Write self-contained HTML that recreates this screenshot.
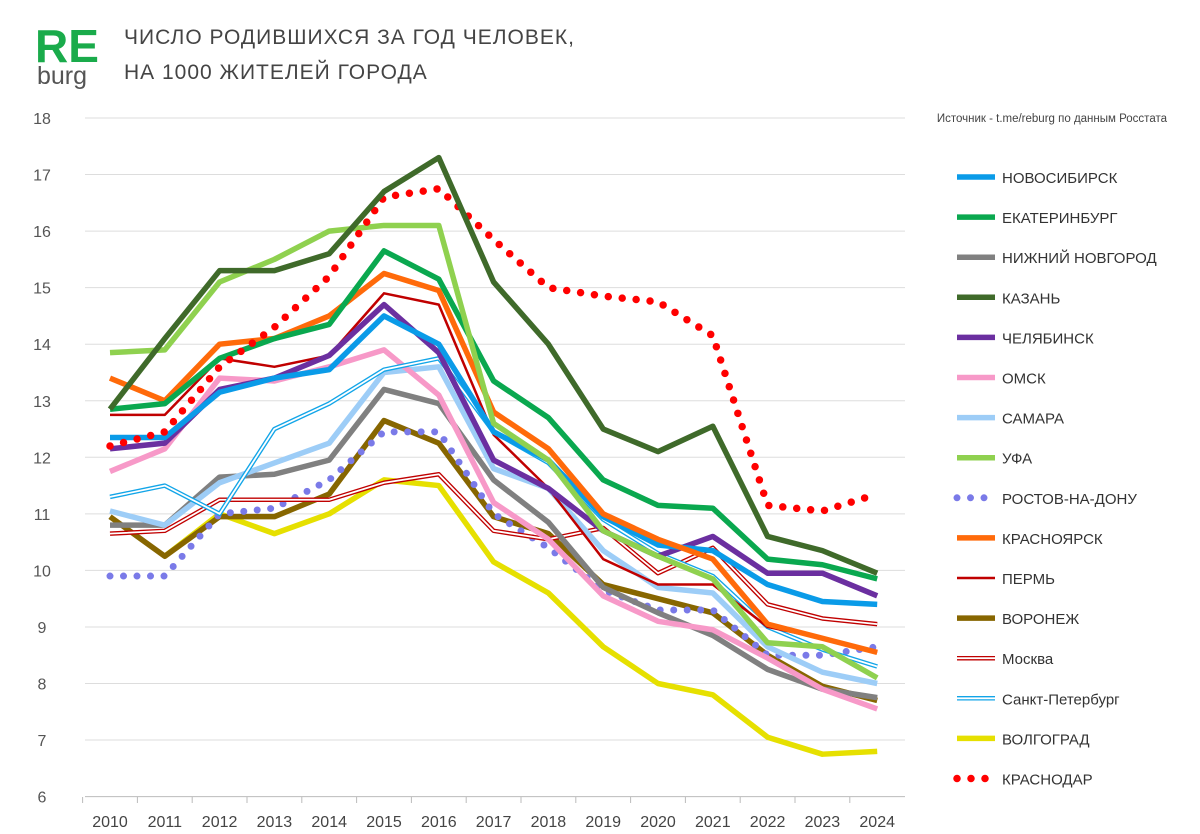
<!DOCTYPE html>
<html><head><meta charset="utf-8">
<style>
body{margin:0;background:#fff;width:1200px;height:834px;overflow:hidden;font-family:"Liberation Sans",sans-serif}
svg{position:absolute;left:0;top:0}
</style></head><body>
<svg id="c" width="1200" height="834" xmlns="http://www.w3.org/2000/svg">
<text x="35" y="62" font-size="46" font-weight="bold" fill="#1aab4b">RE</text>
<text x="37" y="84" font-size="25" fill="#555">burg</text>
<text x="124" y="44" font-size="21" fill="#444" letter-spacing="1">ЧИСЛО РОДИВШИХСЯ ЗА ГОД ЧЕЛОВЕК,</text>
<text x="124" y="79" font-size="21" fill="#444" letter-spacing="1">НА 1000 ЖИТЕЛЕЙ ГОРОДА</text>
<text x="1167" y="122" font-size="11.5" fill="#444" text-anchor="end">Источник - t.me/reburg по данным Росстата</text>
<g id="grid"></g><g id="lines"></g><g id="legend"></g>
</svg>
<script>
const years=[2010,2011,2012,2013,2014,2015,2016,2017,2018,2019,2020,2021,2022,2023,2024];
const yTicks=[6,7,8,9,10,11,12,13,14,15,16,17,18];
const names=["НОВОСИБИРСК","ЕКАТЕРИНБУРГ","НИЖНИЙ НОВГОРОД","КАЗАНЬ","ЧЕЛЯБИНСК","ОМСК","САМАРА","УФА","РОСТОВ-НА-ДОНУ","КРАСНОЯРСК","ПЕРМЬ","ВОРОНЕЖ","Москва","Санкт-Петербург","ВОЛГОГРАД","КРАСНОДАР"];
const novosibirsk=[12.35,12.35,13.15,13.4,13.55,14.5,14.0,12.45,11.95,10.95,10.45,10.35,9.75,9.45,9.4];
const ekaterinburg=[12.85,12.95,13.75,14.1,14.35,15.65,15.15,13.35,12.7,11.6,11.15,11.1,10.2,10.1,9.85];
const nnovgorod=[10.8,10.8,11.65,11.7,11.95,13.2,12.95,11.6,10.85,9.7,9.25,8.85,8.25,7.9,7.75];
const kazan=[12.85,14.1,15.3,15.3,15.6,16.7,17.3,15.1,14.0,12.5,12.1,12.55,10.6,10.35,9.95];
const chelyabinsk=[12.15,12.25,13.2,13.4,13.8,14.7,13.85,11.95,11.45,10.7,10.25,10.6,9.95,9.95,9.55];
const omsk=[11.75,12.15,13.4,13.35,13.6,13.9,13.1,11.2,10.55,9.55,9.1,8.95,8.45,7.9,7.55];
const samara=[11.05,10.8,11.55,11.9,12.25,13.5,13.6,11.8,11.45,10.35,9.7,9.6,8.65,8.2,8.0];
const ufa=[13.85,13.9,15.1,15.5,16.0,16.1,16.1,12.6,11.95,10.7,10.25,9.85,8.72,8.65,8.1];
const rostov=[9.9,9.9,11.0,11.1,11.6,12.45,12.45,11.0,10.4,9.65,9.3,9.3,8.5,8.5,8.65];
const krasnoyarsk=[13.4,13.0,14.0,14.1,14.5,15.25,14.95,12.8,12.15,11.0,10.55,10.2,9.05,8.8,8.55];
const perm=[12.75,12.75,13.75,13.6,13.8,14.9,14.7,12.4,11.45,10.2,9.75,9.75,9.0,8.8,8.55];
const voronezh=[10.95,10.25,10.95,10.95,11.35,12.65,12.25,10.95,10.65,9.75,9.5,9.25,8.5,7.95,7.7];
const moscow=[10.65,10.7,11.25,11.25,11.25,11.55,11.7,10.7,10.55,10.75,9.95,10.4,9.4,9.15,9.05];
const spb=[11.3,11.5,11.0,12.5,12.95,13.55,13.75,12.45,11.9,10.9,10.3,9.9,9.0,8.6,8.3];
const volgograd=[null,10.25,11.0,10.65,11.0,11.6,11.5,10.15,9.6,8.65,8.0,7.8,7.05,6.75,6.8];
const krasnodar=[12.2,12.45,13.6,14.3,15.2,16.6,16.75,15.85,15.0,14.85,14.75,14.15,11.15,11.05,11.35];
const series=[novosibirsk,ekaterinburg,nnovgorod,kazan,chelyabinsk,omsk,samara,ufa,rostov,krasnoyarsk,perm,voronezh,moscow,spb,volgograd,krasnodar];
const styles=[
 {c:"#0a9be8",w:5.5},{c:"#0aa84f",w:5.5},{c:"#808080",w:5.5},{c:"#3f6a2a",w:5.5},{c:"#6b2fa0",w:5.5},{c:"#f799c8",w:5.5},{c:"#9dcdf7",w:5.5},{c:"#8fd14f",w:5.5},
 {c:"#7a7ae8",w:7,dot:13.5},{c:"#ff6a0a",w:5.5},{c:"#c00000",w:2.5},{c:"#876600",w:5.5},{c:"#c00000",w:4.5,dbl:1},{c:"#12a5e8",w:4.5,dbl:1},{c:"#e6e000",w:5.5},{c:"#ff0000",w:7.5,dot:14}];
const order=[14,11,8,12,2,6,5,13,10,4,0,9,1,7,15,3];
const X=v=>110+(v-2010)*54.8, Y=v=>118+(18-v)*56.55;
const NS="http://www.w3.org/2000/svg";
const grid=document.getElementById('grid'),lines=document.getElementById('lines'),leg=document.getElementById('legend');
function mk(tag,at,p){const e=document.createElementNS(NS,tag);for(const k in at)e.setAttribute(k,at[k]);p.appendChild(e);return e;}
yTicks.forEach(t=>{
 const l=mk('line',{x1:85,x2:905,y1:Y(t),y2:Y(t),stroke:t==6?'#bbb':'#ddd','stroke-width':1},grid);
 
 
 const tx=mk('text',{x:42,y:Y(t)+6,'font-size':16,fill:'#555','text-anchor':'middle'},grid);tx.textContent=t;
 
 
});
years.forEach(yr=>{
 const tx=mk('text',{x:X(yr),y:827,'font-size':16,fill:'#444','text-anchor':'middle'},grid);tx.textContent=yr;
 
 
 const tk=mk('line',{x1:X(yr)-27.4,x2:X(yr)-27.4,y1:797,y2:803,stroke:'#bbb'},grid);
 
 
});
function draw(g,pts,s){
 const at={points:pts,fill:'none',stroke:s.c,'stroke-width':s.w,'stroke-linejoin':'round'};
 if(s.dot){at['stroke-dasharray']='0 '+s.dot;at['stroke-linecap']='round';}
 mk('polyline',at,g);
 if(s.dbl)mk('polyline',{points:pts,fill:'none',stroke:'#fff','stroke-width':1.8,'stroke-linejoin':'round'},g);
}
order.forEach(i=>{
 const pts=series[i].map((v,j)=>v==null?null:X(years[j])+','+Y(v)).filter(p=>p).join(' ');
 const g=mk('g',{},lines);
 
 
 draw(g,pts,styles[i]);
});
names.forEach((n,i)=>{
 const y=177+i*40.1;
 const g=mk('g',{},leg);
 
 
 draw(g,'957,'+y+' 995,'+y,styles[i]);
 const tx=mk('text',{x:1002,y:y+6,'font-size':15,fill:'#333'},g);tx.textContent=n;
});
</script>
</body></html>
